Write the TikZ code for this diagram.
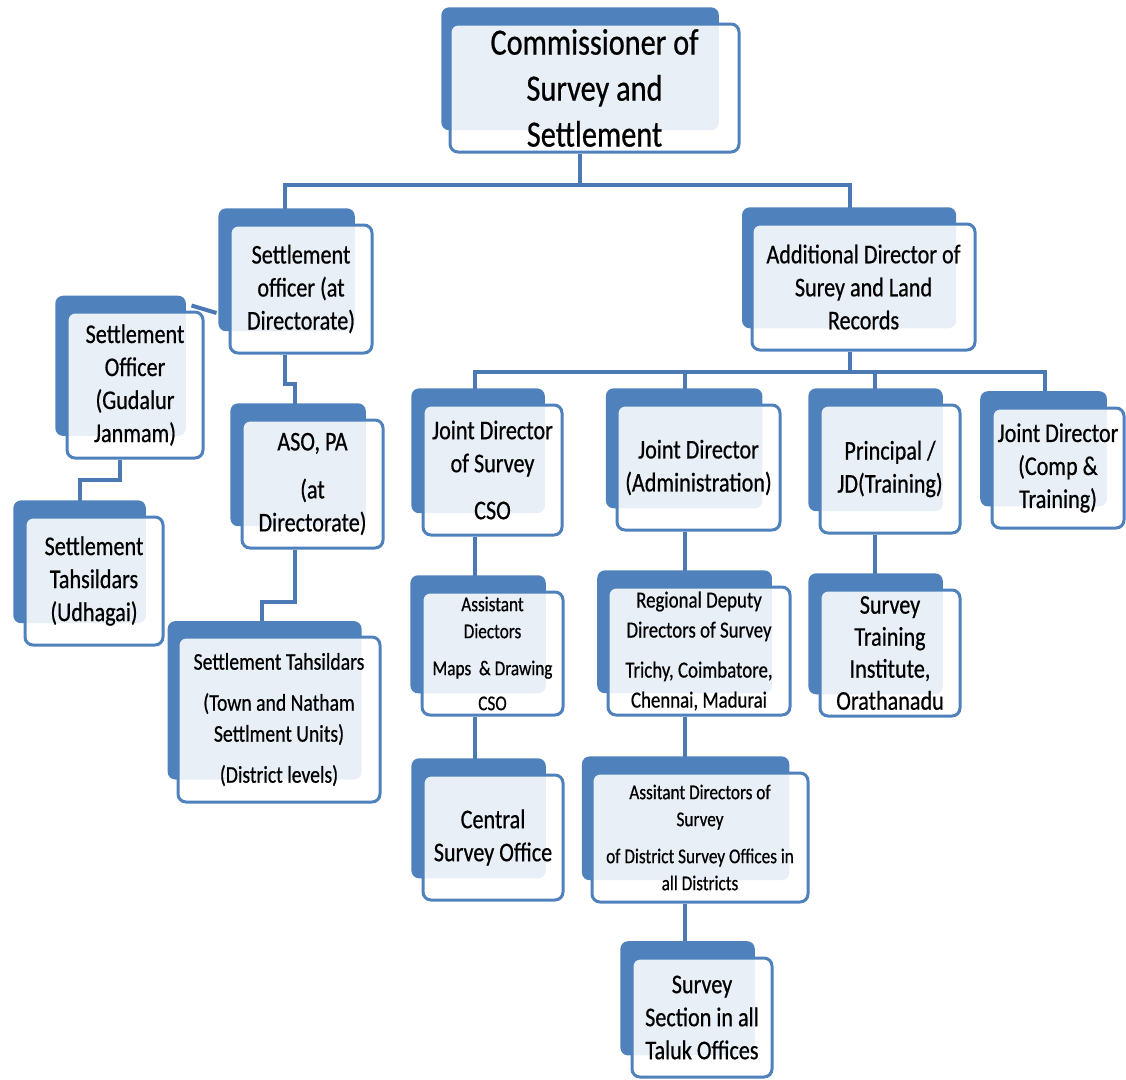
\documentclass[tikz,border=0pt]{standalone}
\usepackage{fontspec}
\setmainfont{Carlito}[FakeStretch=0.82,FakeBold=0.6]
\usetikzlibrary{shadows,backgrounds}
\definecolor{boxblue}{HTML}{4F81BD}
\definecolor{linkblue}{HTML}{4A79B3}

\begin{document}
\begin{tikzpicture}[x=1pt,y=-1pt,
	card/.style={draw=boxblue, line width=3pt, rounded corners=8pt,
		fill=white, fill opacity=0.88, text opacity=1, align=center, inner sep=0pt,
		font=\fontsize{27}{33}\selectfont,
		general shadow={fill=boxblue, fill opacity=1, draw=none,
			shadow xshift=-15pt, shadow yshift=20pt, shadow scale=0.96}},
	link/.style={draw=linkblue, line width=4pt}
]
\useasboundingbox (0,0) rectangle (1126,1079);

%% Draw boxes
\node[card, minimum width=289, minimum height=128, font=\fontsize{37}{46}\selectfont]
	(comm) at (594.5,88) {Commissioner of\\Survey and\\Settlement};
\node[card, minimum width=142, minimum height=128] (soD) at (301,289)
	{Settlement\\officer (at\\Directorate)};
\node[card, minimum width=223, minimum height=126] (add) at (863.5,287)
	{Additional Director of\\Surey and Land\\Records};
\node[card, minimum width=136, minimum height=146] (gud) at (135,385)
	{Settlement\\Officer\\(Gudalur\\Janmam)};
\node[card, minimum width=138, minimum height=128] (udh) at (94,581)
	{Settlement\\Tahsildars\\(Udhagai)};
\node[card, minimum width=141, minimum height=128] (aso) at (312.5,484)
	{ASO, PA\\[15pt](at\\Directorate)};
\node[card, minimum width=202, minimum height=165, font=\fontsize{24}{31}\selectfont]
	(town) at (279,719.5)
	{Settlement Tahsildars\\[10pt](Town and Natham\\Settlment Units)\\[10pt](District levels)};

\node[card, minimum width=139, minimum height=130] (jds) at (492.5,470)
	{Joint Director\\of Survey\\[14pt]CSO};
\node[card, minimum width=163, minimum height=125] (jda) at (698.5,467.5)
	{Joint Director\\(Administration)};
\node[card, minimum width=140, minimum height=128] (pri) at (890,469)
	{Principal /\\JD(Training)};
\node[card, minimum width=132, minimum height=120] (jdc) at (1058,468)
	{Joint Director\\(Comp \&\\Training)};

\node[card, minimum width=141, minimum height=123, font=\fontsize{21}{27}\selectfont]
	(ad1) at (492.5,653.5) {Assistant\\Diectors\\[10pt]Maps~~\& Drawing\\[8pt]CSO};
\node[card, minimum width=182, minimum height=128, font=\fontsize{23}{30}\selectfont]
	(rdd) at (699,651)
	{Regional Deputy\\Directors of Survey\\[10pt]Trichy, Coimbatore,\\Chennai, Madurai};
\node[card, minimum width=140, minimum height=126, font=\fontsize{27}{32}\selectfont]
	(sti) at (890,653) {Survey\\Training\\Institute,\\Orathanadu};

\node[card, minimum width=140, minimum height=125] (cso) at (493,837.5)
	{Central\\Survey Office};
\node[card, minimum width=216, minimum height=129, font=\fontsize{21}{27}\selectfont]
	(ads) at (700,837.5)
	{Assitant Directors of\\Survey\\[10pt]of District Survey Offices in\\all Districts};
\node[card, minimum width=140, minimum height=119] (sec) at (702,1017.5)
	{Survey\\Section in all\\Taluk Offices};

%% Draw connectors
\begin{scope}[on background layer]
\draw[link] ([xshift=-15pt]comm.south) -- ++(0,31) coordinate (bus1);
\draw[link] ([xshift=-16pt]soD.north) |- (bus1) -| ([xshift=-13.5pt]add.north);
\draw[link] ([xshift=-13.5pt]add.south) -- ++(0,20) coordinate (bus2);
\draw[link] ([xshift=-17.5pt]jds.north) |- (bus2) -| ([xshift=-13pt]jdc.north);
\draw[link] ([xshift=-13.5pt]jda.north) -- ([xshift=-13.5pt]jda.north |- bus2);
\draw[link] ([xshift=-15pt]pri.north) -- ([xshift=-15pt]pri.north |- bus2);

\draw[link] ([xshift=-17.5pt]jds.south) -- ([xshift=-17.5pt]jds.south |- ad1.north);
\draw[link] ([xshift=-17.5pt]ad1.south) -- ([xshift=-17.5pt]ad1.south |- cso.north);
\draw[link] ([xshift=-13.5pt]jda.south) -- ([xshift=-13.5pt]jda.south |- rdd.north);
\draw[link] ([xshift=-14pt]rdd.south) -- ([xshift=-14pt]rdd.south |- ads.north);
\draw[link] ([xshift=-15pt]ads.south) -- ([xshift=-15pt]ads.south |- sec.north);
\draw[link] ([xshift=-15pt]pri.south) -- ([xshift=-15pt]pri.south |- sti.north);

\draw[link] ([xshift=-16pt]soD.south) -- ++(0,29) -| ([xshift=-17.5pt]aso.north);
\draw[link] ([xshift=-17.5pt]aso.south) -- ++(0,52) -| ([xshift=-17pt]town.north);
\draw[link] ([xshift=-15pt]gud.south) -- ++(0,20) -| ([xshift=-14pt]udh.north);
\draw[link] ([shift={(-13,-5)}]gud.north east) -- ([shift={(-12,24)}]soD.west);
\end{scope}
\end{tikzpicture}
\end{document}
